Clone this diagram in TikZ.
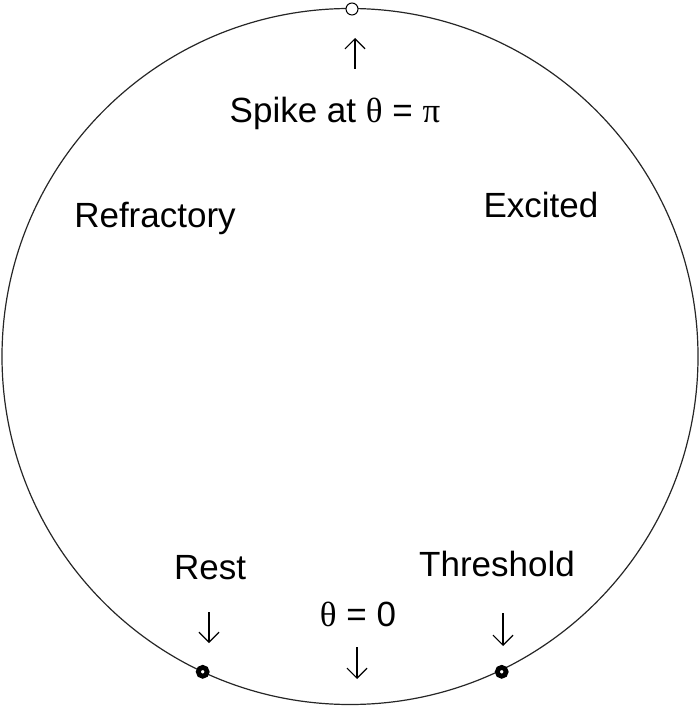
\documentclass[tikz,border=0pt]{standalone}
\usepackage{fontspec}
\setmainfont{Liberation Sans}
\newfontfamily\greekfont{Liberation Serif}
\usepackage{tikz}
\usetikzlibrary{arrows.meta}
\newcommand{\gk}[1]{{\greekfont #1}}

\begin{document}
\begin{tikzpicture}[
  x=0.5pt,y=-0.5pt,
  lbl/.style={anchor=base,inner sep=0pt,font=\fontsize{17.5}{20}\selectfont},
  phase/.style={draw=black!85,line width=0.6pt},
  statedot/.style={circle,draw=black,line width=2.4pt,fill=white,minimum size=4.4pt,inner sep=0pt},
  peakdot/.style={circle,draw=black,line width=0.5pt,fill=white,minimum size=6pt,inner sep=0pt},
  tip/.style={-{Straight Barb[length=5pt,width=10pt]},line width=0.6pt}
]
\useasboundingbox (0,0) rectangle (699,710);
\coordinate (c) at (350,356.5);
\draw[phase] (c) circle[radius=348];
% markers on the circle
\node[peakdot] (spk) at (352,9) {};
\node[statedot] (rest) at (202.7,671.8) {};
\node[statedot] (thr) at (501.7,671.8) {};
% labels
\node[lbl] (spike) at (335,123) {Spike at \gk{θ} = \gk{π}};
\node[lbl] (refr) at (155,228) {Refractory};
\node[lbl] (exc) at (541,218) {Excited};
\node[lbl] (restl) at (210,579) {Rest};
\node[lbl] (thrl) at (497,576) {Threshold};
\node[lbl] (zero) at (358,626) {\gk{θ} = 0};
% arrows
\coordinate (upS) at (355,69);
\coordinate (upE) at (355,38);
\coordinate (rS) at (209,612);
\coordinate (rE) at (209,643);
\coordinate (zS) at (357,647);
\coordinate (zE) at (357,679);
\coordinate (tS) at (503,613);
\coordinate (tE) at (503,646);
\draw[tip] (upS) -- (upE);
\draw[tip] (rS) -- (rE);
\draw[tip] (zS) -- (zE);
\draw[tip] (tS) -- (tE);
\end{tikzpicture}
\end{document}
